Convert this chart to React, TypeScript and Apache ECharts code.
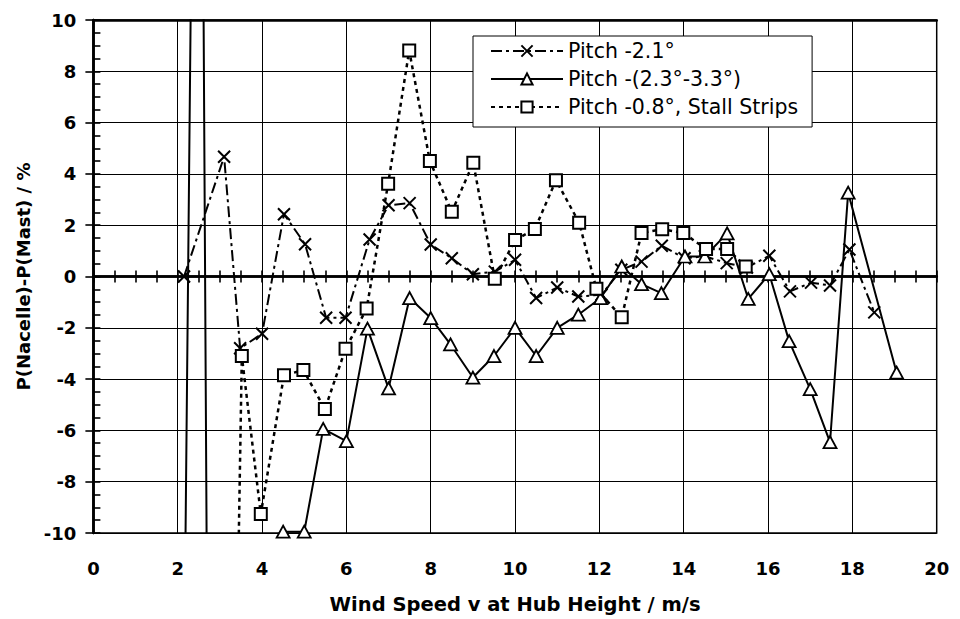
import React, { useEffect, useRef } from "react";
import * as echarts from "echarts";

// ---- data ----
const seriesNames = ["Pitch -2.1°", "Pitch -(2.3°-3.3°)", "Pitch -0.8°, Stall Strips"];

const pitch21X = [2.15, 3.1, 3.48, 4.0, 4.52, 5.02, 5.52, 5.98, 6.55, 7.0, 7.5, 8.0, 8.5, 9.0, 9.52, 10.0, 10.5, 11.0, 11.5, 12.05, 12.52, 13.0, 13.48, 14.02, 14.5, 15.02, 15.5, 16.03, 16.52, 17.02, 17.47, 17.93, 18.52];
const pitch21Y = [0, 4.67, -2.8, -2.23, 2.43, 1.26, -1.61, -1.61, 1.44, 2.78, 2.86, 1.25, 0.71, 0.09, 0.19, 0.65, -0.84, -0.43, -0.78, -0.71, 0.26, 0.58, 1.2, 0.71, 0.79, 0.52, 0.35, 0.81, -0.58, -0.24, -0.35, 1.05, -1.4];

const pitch23X = [2.0, 2.5, 3.0, 4.5, 5.0, 5.45, 6.0, 6.5, 7.0, 7.5, 8.0, 8.47, 9.0, 9.5, 10.0, 10.5, 11.0, 11.5, 12.03, 12.53, 13.0, 13.47, 14.03, 14.5, 15.03, 15.53, 16.03, 16.5, 17.0, 17.47, 17.9, 19.05];
const pitch23Y = [-41, 42.5, -100, -9.95, -9.95, -5.94, -6.42, -2.03, -4.36, -0.84, -1.62, -2.65, -3.94, -3.1, -2.0, -3.1, -2.0, -1.49, -0.84, 0.39, -0.3, -0.65, 0.78, 0.78, 1.68, -0.87, 0.09, -2.52, -4.39, -6.46, 3.27, -3.75];

const pitch08X = [3.0, 3.52, 3.97, 4.52, 4.98, 5.49, 5.98, 6.48, 6.99, 7.49, 7.98, 8.5, 9.01, 9.52, 10.0, 10.47, 10.97, 11.52, 11.93, 12.53, 13.0, 13.49, 13.99, 14.53, 15.03, 15.47];
const pitch08Y = [-54, -3.1, -9.26, -3.85, -3.65, -5.17, -2.82, -1.25, 3.62, 8.81, 4.5, 2.52, 4.43, -0.09, 1.42, 1.85, 3.75, 2.1, -0.48, -1.59, 1.7, 1.84, 1.7, 1.07, 1.07, 0.39];

const xAxisTitle = "Wind Speed v at Hub Height / m/s";
const yAxisTitle = "P(Nacelle)-P(Mast) / %";
const X_MIN = 0;
const X_MAX = 20;
const Y_MIN = -10;
const Y_MAX = 10;

const FONT = "'DejaVu Sans', 'Liberation Sans', sans-serif";

function pairs(xs: number[], ys: number[]) {
  return xs.map((x, i) => [x, ys[i]]);
}

export default function App() {
  const ref = useRef<HTMLDivElement>(null);

  useEffect(() => {
    if (!ref.current) return;
    const chart = echarts.init(ref.current, undefined, { renderer: "svg" });

    const labelStyle = { fontFamily: FONT, fontWeight: "bold" as const, fontSize: 18, color: "#000" };
    const tickLine = { color: "#000", width: 1.6 };

    chart.setOption({
      animation: false,
      backgroundColor: "#fff",
      grid: {
        left: 93.4,
        right: 23.3,
        top: 20,
        bottom: 82.7,
        show: true,
        borderColor: "#000",
        borderWidth: 1.5,
        backgroundColor: "transparent",
      },
      legend: {
        orient: "vertical",
        left: 473,
        top: 36,
        padding: [4, 14, 9, 17],
        itemWidth: 72,
        itemHeight: 14,
        itemGap: 6,
        backgroundColor: "#fff",
        borderColor: "#000",
        borderWidth: 1,
        selectedMode: false,
        textStyle: { fontFamily: FONT, fontSize: 20.5, color: "#000", lineHeight: 22 },
        data: seriesNames,
      },
      xAxis: [
        {
          type: "value",
          min: X_MIN,
          max: X_MAX,
          interval: 2,
          position: "bottom",
          axisLine: { show: false, onZero: false },
          axisTick: { show: false },
          axisLabel: { ...labelStyle, margin: 26 },
          splitLine: { show: true, lineStyle: { color: "#000", width: 1 } },
          name: xAxisTitle,
          nameLocation: "middle",
          nameGap: 61,
          nameTextStyle: { fontFamily: FONT, fontWeight: "bold", fontSize: 19.5, color: "#000" },
        },
        {
          type: "value",
          min: X_MIN,
          max: X_MAX,
          interval: 0.5,
          position: "bottom",
          axisLine: { show: true, onZero: true, onZeroAxisIndex: 0, lineStyle: { color: "#000", width: 2.5 } },
          axisTick: { show: true, length: 6, lineStyle: tickLine },
          axisLabel: { show: true, formatter: () => "" },
          splitLine: { show: false },
        },
        {
          type: "value",
          min: X_MIN,
          max: X_MAX,
          interval: 0.5,
          position: "bottom",
          axisLine: { show: true, onZero: true, onZeroAxisIndex: 0, lineStyle: { color: "#000", width: 2.5 } },
          axisTick: { show: true, inside: true, length: 6, lineStyle: tickLine },
          axisLabel: { show: true, formatter: () => "" },
          splitLine: { show: false },
        },
        {
          type: "value",
          min: X_MIN,
          max: X_MAX,
          interval: 2,
          position: "top",
          axisLine: { show: true, onZero: false, lineStyle: { color: "#000", width: 2.5 } },
          axisTick: { show: false },
          axisLabel: { show: false },
          splitLine: { show: false },
        },
      ],
      yAxis: [
        {
          type: "value",
          min: Y_MIN,
          max: Y_MAX,
          interval: 2,
          position: "left",
          axisLine: { show: true, onZero: false, lineStyle: { color: "#000", width: 2.5 } },
          axisTick: { show: true, length: 8, lineStyle: tickLine },
          axisLabel: { ...labelStyle, margin: 17 },
          splitLine: { show: true, lineStyle: { color: "#000", width: 1 } },
          name: yAxisTitle,
          nameLocation: "middle",
          nameRotate: 90,
          nameGap: 58,
          nameTextStyle: { fontFamily: FONT, fontWeight: "bold", fontSize: 18, color: "#000" },
        },
        {
          type: "value",
          min: Y_MIN,
          max: Y_MAX,
          interval: 0.5,
          position: "left",
          axisLine: { show: true, onZero: false, lineStyle: { color: "#000", width: 2.5 } },
          axisTick: { show: true, inside: true, length: 7, lineStyle: tickLine },
          axisLabel: { show: true, formatter: () => "" },
          splitLine: { show: false },
        },
      ],
      series: [
        {
          name: seriesNames[0],
          type: "line",
          xAxisIndex: 0,
          yAxisIndex: 0,
          data: pairs(pitch21X, pitch21Y),
          symbol: "path://M0,0L10,10M10,0L0,10",
          symbolSize: 12,
          color: "#000",
          lineStyle: { color: "#000", width: 2, type: [11, 4, 3, 4] },
          itemStyle: { color: "#000", borderColor: "#000", borderWidth: 2 },
          emphasis: { disabled: true },
          clip: true,
          z: 3,
        },
        {
          name: seriesNames[1],
          type: "line",
          xAxisIndex: 0,
          yAxisIndex: 0,
          data: pairs(pitch23X, pitch23Y),
          symbol: "triangle",
          symbolSize: [13, 12],
          color: "#000",
          lineStyle: { color: "#000", width: 2, type: "solid" },
          itemStyle: { color: "#fff", borderColor: "#000", borderWidth: 1.8 },
          emphasis: { disabled: true },
          clip: true,
          z: 4,
        },
        {
          name: seriesNames[2],
          type: "line",
          xAxisIndex: 0,
          yAxisIndex: 0,
          data: pairs(pitch08X, pitch08Y),
          symbol: "rect",
          symbolSize: 12,
          color: "#000",
          lineStyle: { color: "#000", width: 2.5, type: [4, 4] },
          itemStyle: { color: "#fff", borderColor: "#000", borderWidth: 2 },
          emphasis: { disabled: true },
          clip: true,
          z: 5,
        },
      ],
    });

    return () => chart.dispose();
  }, []);

  return (
    <div
      ref={ref}
      style={{ position: "fixed", left: 0, top: 0, width: 960, height: 619, background: "#fff" }}
    />
  );
}
